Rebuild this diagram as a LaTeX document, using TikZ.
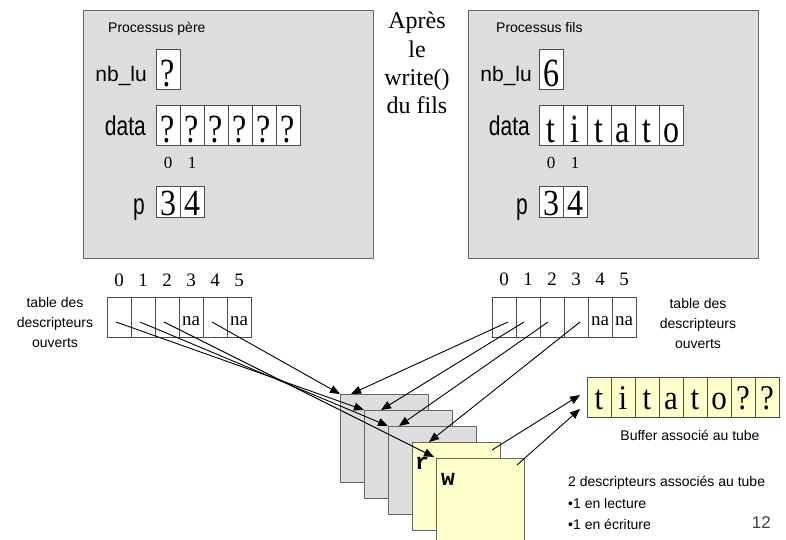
\documentclass[tikz,border=0pt]{standalone}
\usepackage{fontspec}
\usepackage{graphicx}
\setmainfont{Liberation Serif}
\setsansfont{Liberation Sans}
\setmonofont{Liberation Mono}
\usetikzlibrary{arrows.meta}

\definecolor{procfill}{HTML}{DDDDDD}
\definecolor{procedge}{HTML}{666666}
\definecolor{celledge}{HTML}{4D4D4D}
\definecolor{pipefill}{HTML}{FFFFCC}
\definecolor{pagenum}{HTML}{404040}

\newcommand{\fsz}[1]{\fontsize{#1}{#1}\selectfont}
% slightly elongated glyphs, as set on the slide
\newcommand{\tall}[2][1.25]{\scalebox{1}[#1]{#2}}

\tikzset{
  procbox/.style={draw=procedge, line width=1.3pt, fill=procfill, anchor=north west,
    minimum width=290pt, minimum height=248pt, inner sep=0pt},
  cellbase/.style={draw=celledge, line width=1pt, fill=white, inner sep=0pt,
    minimum width=24pt, text depth=0pt},
  bigcell/.style={cellbase, minimum height=40pt, font=\fsz{32}, text height=34pt},
  pcell/.style={cellbase, minimum height=31pt, font=\fsz{32}, text height=28pt},
  fdcell/.style={cellbase, minimum height=40pt, font=\fsz{19}, text height=16pt},
  bufcell/.style={cellbase, fill=pipefill, minimum height=40pt, font=\fsz{31}, text height=25pt},
  panelgray/.style={draw=procedge, line width=1.3pt, fill=procfill, anchor=north west,
    minimum width=88pt, minimum height=88pt, inner sep=0pt},
  panelyellow/.style={panelgray, fill=pipefill},
  idx/.style={font=\fsz{19}, anchor=base, inner sep=0pt},
  pidx/.style={font=\fsz{17}, anchor=base, inner sep=0pt},
  varlabel/.style={font=\sffamily\fsz{21}, anchor=base east, inner sep=0pt},
  proctitle/.style={font=\sffamily\fsz{14}, anchor=base west, inner sep=0pt},
  note/.style={font=\sffamily\fontsize{14}{20}\selectfont, inner sep=0pt},
  rwlabel/.style={font=\ttfamily\bfseries\fsz{23}, inner sep=0pt},
  link/.style={line width=0.9pt, -{Triangle[length=10pt,width=8pt]}},
}

\begin{document}
\begin{tikzpicture}[x=1pt,y=-1pt]
\useasboundingbox (0,0) rectangle (786,540);
\clip (0,0) rectangle (786,540);

% ---- the two processes ----
\node[procbox] (pere) at (83,10) {};
\node[procbox] (fils) at (468,10) {};
\node[proctitle] (tpere) at (108,33) {Processus père};
\node[proctitle] (tfils) at (496,33) {Processus fils};

% father's variables
\node[varlabel] (nbp) at (147,82) {nb\_lu};
\node[bigcell] (nbpv) at (168,69.5) {\tall{?}};
\node[varlabel] (datap) at (146,136) {\tall[1.3]{data}};
\foreach \c [count=\i from 0] in {?,?,?,?,?,?}
  \node[bigcell] (dp\i) at (168+24*\i,126) {\tall{\c}};
\node[pidx] (ipp0) at (168,168) {0};
\node[pidx] (ipp1) at (192,168) {1};
\node[varlabel] (ppl) at (145,214) {\tall[1.4]{p}};
\node[pcell] (pp0) at (168,201.5) {\tall[1.15]{3}};
\node[pcell] (pp1) at (192,201.5) {\tall[1.15]{4}};

% son's variables
\node[varlabel] (nbf) at (532,82) {nb\_lu};
\node[bigcell] (nbfv) at (551,69.5) {\tall{6}};
\node[varlabel] (dataf) at (530,136) {\tall[1.3]{data}};
\foreach \c [count=\i from 0] in {t,i,t,a,t,o}
  \node[bigcell] (df\i) at (551+24*\i,126) {\tall{\c}};
\node[pidx] (ipf0) at (551,168) {0};
\node[pidx] (ipf1) at (575,168) {1};
\node[varlabel] (pfl) at (528,214) {\tall[1.4]{p}};
\node[pcell] (pf0) at (551,201.5) {\tall[1.15]{3}};
\node[pcell] (pf1) at (575,201.5) {\tall[1.15]{4}};

% caption between the processes
\node[font=\fontsize{24}{28.4}\selectfont, align=center, inner sep=0pt] (apres)
  at (417,63) {Après\\le\\write()\\du fils};

% ---- descriptor tables ----
\foreach \c [count=\i from 0] in {{},{},{},na,{},na}{
  \node[fdcell] (lt\i) at (119+24*\i,317) {\c};
  \node[idx] (lti\i) at (119+24*\i,286) {\i};
}
\foreach \c [count=\i from 0] in {{},{},{},{},na,na}{
  \node[fdcell] (rt\i) at (504+24*\i,317) {\c};
  \node[idx] (rti\i) at (504+24*\i,285) {\i};
}
\node[note, align=center] (ltab) at (55,322) {table des\\descripteurs\\ouverts};
\node[note, align=center] (rtab) at (698,323) {table des\\descripteurs\\ouverts};

% ---- open file table entries ----
\node[panelgray] (P1) at (340,394) {};
\node[panelgray] (P2) at (364,410) {};
\node[panelgray] (P3) at (388,426) {};
\node[panelyellow] (P4) at (412,442) {};
\node[panelyellow] (P5) at (436,458) {};
\node[rwlabel] (rlab) at (422,463) {r};
\node[rwlabel] (wlab) at (448,479) {w};

% ---- pipe buffer ----
\foreach \c [count=\i from 0] in {t,i,t,a,t,o,?,?}
  \node[bufcell] (b\i) at (599+24*\i,397) {\tall[1.12]{\c}};
\node[note, anchor=base] (bufcap) at (690,440) {Buffer associé au tube};

\node[note, anchor=base west] (d1) at (568,486) {2 descripteurs associés au tube};
\node[note, anchor=base west] (d2) at (568,508) {•1 en lecture};
\node[note, anchor=base west] (d3) at (568,529) {•1 en écriture};
\node[font=\sffamily\fsz{17}, text=pagenum, anchor=base east, inner sep=0pt] (pnum)
  at (771,528) {12};

% ---- connectors ----
\coordinate (l0) at (116,322);
\coordinate (l1) at (140,322);
\coordinate (l2) at (164,322);
\coordinate (l4) at (212,322);
\coordinate (rtip) at (434,457);
\draw[link] (l4) -- (P1.north west);
\draw[link] (l0) -- (P2.north west);
\draw[link] (l1) -- (P3.north west);
\draw[link] (l2) -- (rtip);

\coordinate (r0) at (508,322);
\coordinate (r1) at (524,322);
\coordinate (r2) at (548,322);
\coordinate (r3) at (580,322);
\draw[link] (r0) -- ([xshift=11pt]P1.north west);
\draw[link] (r1) -- ([xshift=17pt]P2.north west);
\draw[link] (r2) -- ([xshift=11pt]P3.north west);
\draw[link] (r3) -- ([xshift=17pt]P4.north west);

\coordinate (rsrc) at (492,450);
\coordinate (wsrc) at (517,465);
\coordinate (bin1) at (580,395);
\coordinate (bin2) at (580,409);
\draw[link] (rsrc) -- (bin1);
\draw[link] (wsrc) -- (bin2);
\end{tikzpicture}
\end{document}
